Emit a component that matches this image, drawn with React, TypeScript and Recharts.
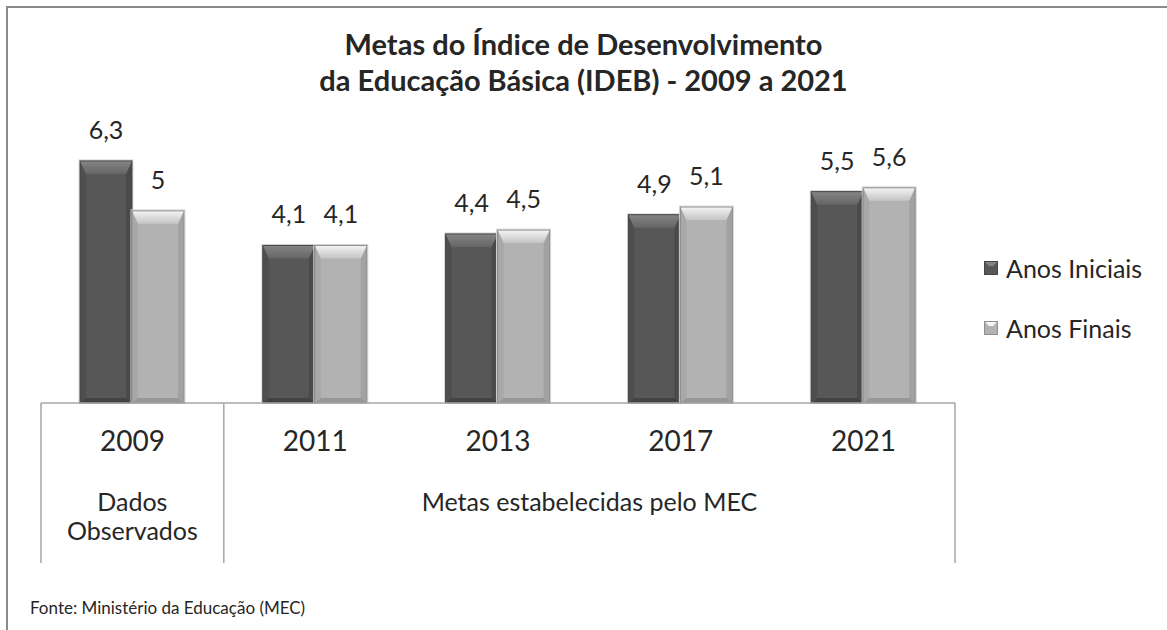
import React from "react";
import { BarChart, Bar, XAxis, YAxis, LabelList } from "recharts";

const years = ["2009", "2011", "2013", "2017", "2021"];
const anosIniciais = [6.3, 4.1, 4.4, 4.9, 5.5];
const anosFinais = [5.0, 4.1, 4.5, 5.1, 5.6];
const seriesNames = ["Anos Iniciais", "Anos Finais"];
const groups = [
  { lines: ["Dados", "Observados"], from: 0, to: 0 },
  { lines: ["Metas estabelecidas pelo MEC"], from: 1, to: 4 },
];
const titleLines = ["Metas do Índice de Desenvolvimento", "da Educação Básica (IDEB) - 2009 a 2021"];
const sourceNote = "Fonte: Ministério da Educação (MEC)";

const data = years.map((y, i) => ({ year: y, ini: anosIniciais[i], fin: anosFinais[i] }));

const W = 1167;
const H = 630;
const MARGIN = { top: 134, right: 212, bottom: 0, left: 41 };
const AXIS_H = 227;
const PLOT_W = W - MARGIN.left - MARGIN.right;
const PLOT_BOTTOM = H - MARGIN.bottom - AXIS_H;
const FONT = "Lato, 'Open Sans', sans-serif";
const TEXT = "#262626";
const LINE = "#a6a6a6";

type Pal = { body: string; top1: string; top2: string; left: string; right: string; bottom: string; edge: string };
const darkPal: Pal = { body: "#575757", top1: "#666666", top2: "#858585", left: "#4e4e4e", right: "#4a4a4a", bottom: "#424242", edge: "#454545" };
const lightPal: Pal = { body: "#b2b2b2", top1: "#c4c4c4", top2: "#f4f4f4", left: "#a8a8a8", right: "#a2a2a2", bottom: "#979797", edge: "#8e8e8e" };

function bevelShape(p: Pal, id: string) {
  return (props: any) => {
    const { x, y, width: w, height: h } = props;
    if (!h || h <= 0) return <g />;
    const b = Math.min(13, h / 2);
    const s = 6;
    const bb = Math.min(5, h / 4);
    return (
      <g>
        <rect x={x - 1} y={y - 1} width={w + 2} height={h + 1} fill="none" stroke="#d8d8d8" strokeWidth={1} />
        <rect x={x} y={y} width={w} height={h} fill={p.body} />
        <polygon points={`${x},${y} ${x + s},${y + b} ${x + s},${y + h - bb} ${x},${y + h}`} fill={p.left} />
        <polygon points={`${x + w},${y} ${x + w - s},${y + b} ${x + w - s},${y + h - bb} ${x + w},${y + h}`} fill={p.right} />
        <polygon points={`${x},${y + h} ${x + s},${y + h - bb} ${x + w - s},${y + h - bb} ${x + w},${y + h}`} fill={p.bottom} />
        <polygon points={`${x},${y} ${x + w},${y} ${x + w - s},${y + b} ${x + s},${y + b}`} fill={`url(#${id})`} />
        <rect x={x} y={y} width={w} height={h} fill="none" stroke={p.edge} strokeWidth={1} />
      </g>
    );
  };
}

const fmt = (v: any) => String(v).replace(".", ",");

function CategoryTick(props: any) {
  const { x, index } = props;
  const band = PLOT_W / years.length;
  const base = PLOT_BOTTOM;
  const lineBottom = base + 160;
  const els: any[] = [];
  els.push(
    <text key="yr" x={x} y={base + 41} textAnchor="middle" dominantBaseline="middle" fontSize={28} fill={TEXT} fontFamily={FONT}>
      {years[index]}
    </text>
  );
  if (index === 0) {
    els.push(<line key="l0" x1={x - band / 2} x2={x - band / 2} y1={base} y2={lineBottom} stroke={LINE} strokeWidth={1.5} />);
  }
  groups.forEach((g, gi) => {
    if (g.to === index) {
      const cx = x - ((g.to - g.from) * band) / 2;
      els.push(<line key={"r" + gi} x1={x + band / 2} x2={x + band / 2} y1={base} y2={lineBottom} stroke={LINE} strokeWidth={1.5} />);
      g.lines.forEach((ln, li) => {
        els.push(
          <text key={"g" + gi + li} x={cx} y={base + 102 + li * 29} textAnchor="middle" dominantBaseline="middle" fontSize={25} fill={TEXT} fontFamily={FONT}>
            {ln}
          </text>
        );
      });
    }
  });
  return <g>{els}</g>;
}

function LegendIcon({ p }: { p: Pal }) {
  return (
    <svg width={14} height={14} style={{ display: "block" }}>
      <rect x={0.5} y={0.5} width={13} height={13} fill={p.body} stroke={p.edge} />
      <polygon points="1,1 13,1 9,5 5,5" fill={p.top2} />
    </svg>
  );
}

export default function App() {
  const pals = [darkPal, lightPal];
  return (
    <div style={{ position: "absolute", left: 0, top: 0, width: W, height: H, background: "#fff", overflow: "hidden" }}>
      <div style={{ position: "absolute", left: 6, top: 6, width: W, height: H, borderTop: "2px solid #8a8a8a", borderLeft: "2px solid #8a8a8a" }} />
      <div style={{ position: "absolute", left: 0, top: 26, width: W, textAlign: "center", fontFamily: FONT, fontWeight: 700, fontSize: 29, color: TEXT, lineHeight: "36px" }}>
        {titleLines.map((t) => (
          <div key={t}>{t}</div>
        ))}
      </div>
      <div style={{ position: "absolute", left: 0, top: 0 }}>
        <BarChart width={W} height={H} data={data} margin={MARGIN} barGap={0} barSize={52}>
          <defs>
            <linearGradient id="gDark" x1="0" y1="1" x2="0" y2="0">
              <stop offset="0" stopColor={darkPal.top1} />
              <stop offset="1" stopColor={darkPal.top2} />
            </linearGradient>
            <linearGradient id="gLight" x1="0" y1="1" x2="0" y2="0">
              <stop offset="0" stopColor={lightPal.top1} />
              <stop offset="1" stopColor={lightPal.top2} />
            </linearGradient>
          </defs>
          <YAxis hide domain={[0, 7]} />
          <XAxis dataKey="year" height={AXIS_H} axisLine={{ stroke: LINE, strokeWidth: 1.5 }} tickLine={false} tick={<CategoryTick />} interval={0} />
          <Bar dataKey="ini" name={seriesNames[0]} isAnimationActive={false} shape={bevelShape(darkPal, "gDark")}>
            <LabelList dataKey="ini" position="top" offset={22} formatter={fmt} fontSize={25} fill={TEXT} fontFamily={FONT} />
          </Bar>
          <Bar dataKey="fin" name={seriesNames[1]} isAnimationActive={false} shape={bevelShape(lightPal, "gLight")}>
            <LabelList dataKey="fin" position="top" offset={22} formatter={fmt} fontSize={25} fill={TEXT} fontFamily={FONT} />
          </Bar>
        </BarChart>
      </div>
      <div style={{ position: "absolute", left: 984, top: 252, fontFamily: FONT, fontSize: 25, color: TEXT }}>
        {seriesNames.map((n, i) => (
          <div key={n} style={{ display: "flex", alignItems: "center", height: 32, marginBottom: 28 }}>
            <LegendIcon p={pals[i]} />
            <span style={{ marginLeft: 8 }}>{n}</span>
          </div>
        ))}
      </div>
      <div style={{ position: "absolute", left: 30, top: 597, fontFamily: FONT, fontSize: 17, color: TEXT }}>{sourceNote}</div>
    </div>
  );
}
